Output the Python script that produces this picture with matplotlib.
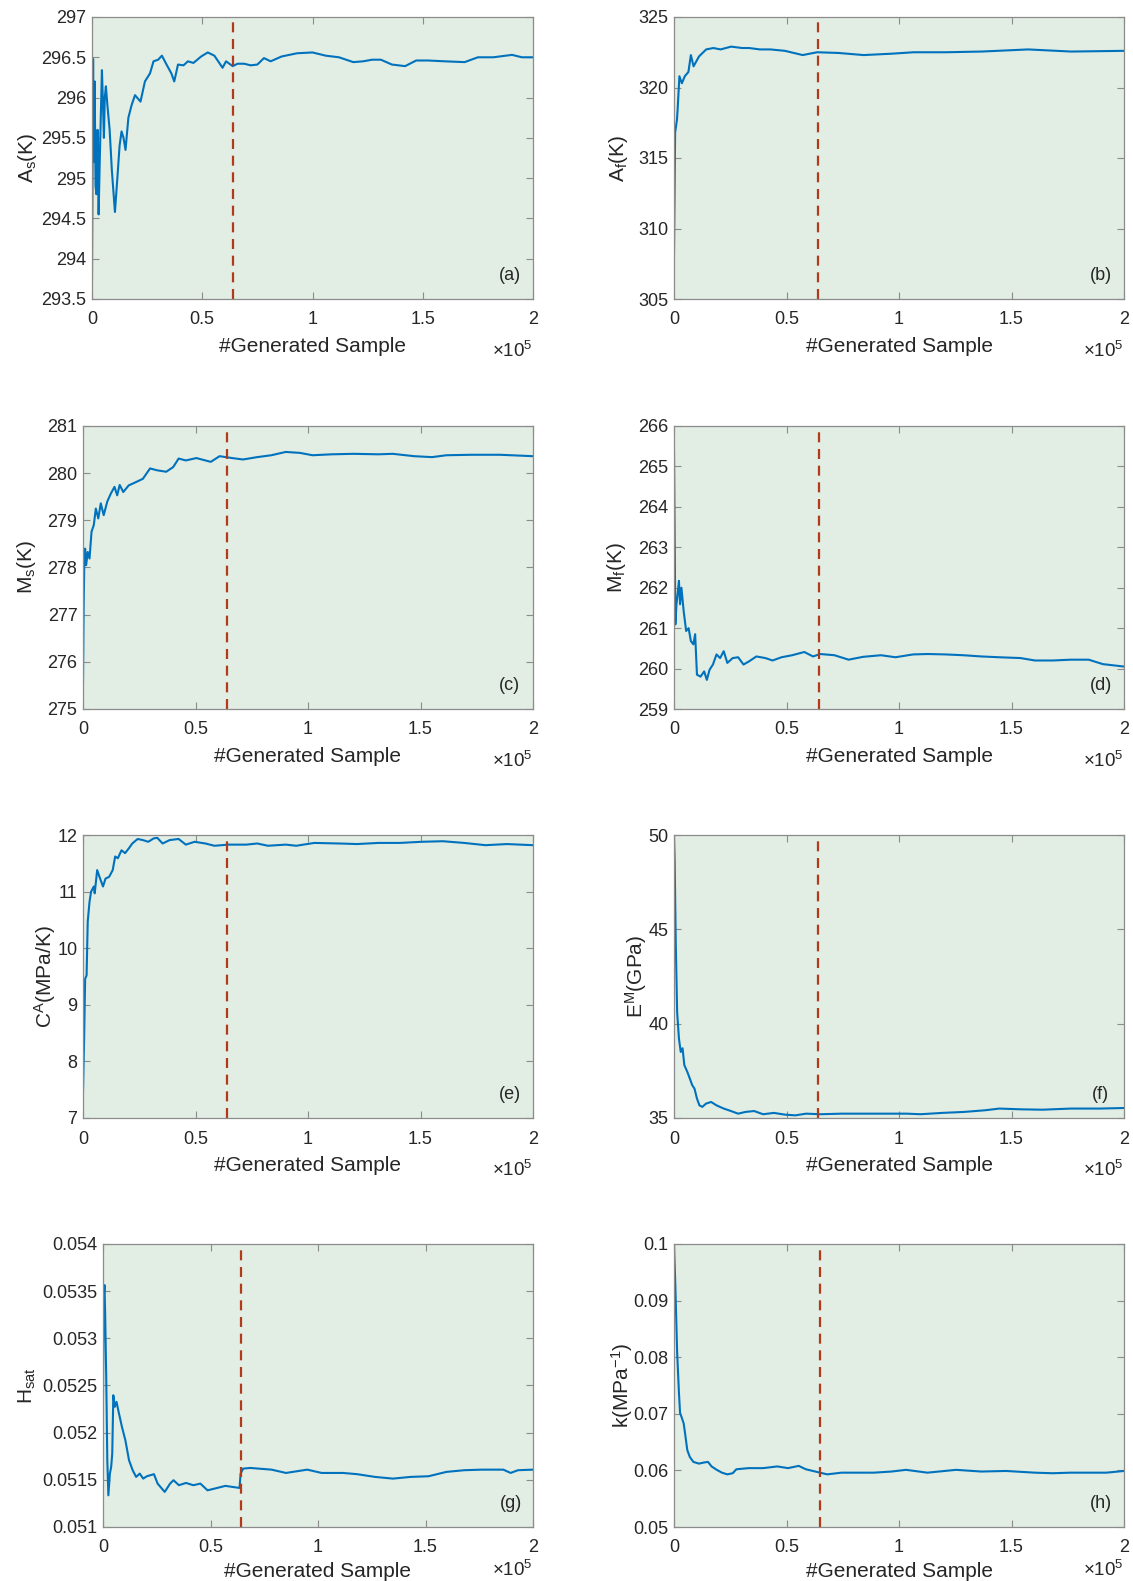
import matplotlib
matplotlib.use("Agg")
import matplotlib.pyplot as plt
from matplotlib.ticker import FixedLocator, FuncFormatter

plt.rcParams['font.family'] = ['Liberation Sans', 'DejaVu Sans']
plt.rcParams['mathtext.fontset'] = 'custom'
plt.rcParams['mathtext.rm'] = 'Liberation Sans'
plt.rcParams['mathtext.it'] = 'Liberation Sans'

# ---------------- data (x in units of 1e5 generated samples) ----------------
a_x = [0.0, 0.005, 0.008, 0.012, 0.016, 0.02, 0.025, 0.03, 0.035, 0.045, 0.05, 0.054, 0.058,
       0.063, 0.07, 0.08, 0.09, 0.104, 0.115, 0.125, 0.134, 0.143, 0.152, 0.165, 0.18, 0.195,
       0.22, 0.24, 0.263, 0.279, 0.3, 0.317, 0.34, 0.36, 0.373, 0.39, 0.415, 0.435, 0.46,
       0.495, 0.525, 0.555, 0.592, 0.608, 0.638, 0.66, 0.69, 0.72, 0.75, 0.78, 0.81, 0.86,
       0.93, 1.0, 1.06, 1.12, 1.185, 1.23, 1.27, 1.31, 1.36, 1.42, 1.47, 1.525, 1.6, 1.69,
       1.75, 1.82, 1.905, 1.95, 2.0]
a_y = [293.75, 296.48, 295.2, 296.2, 294.9, 294.8, 295.6, 294.55, 295.2, 296.34, 295.9, 295.5,
       296.0, 296.14, 295.9, 295.6, 295.1, 294.58, 295.0, 295.4, 295.58, 295.5, 295.35, 295.75,
       295.91, 296.03, 295.95, 296.2, 296.3, 296.45, 296.47, 296.52, 296.4, 296.3, 296.2,
       296.41, 296.4, 296.45, 296.43, 296.51, 296.56, 296.52, 296.37, 296.45, 296.39, 296.42,
       296.42, 296.4, 296.41, 296.49, 296.45, 296.51, 296.55, 296.56, 296.52, 296.5, 296.44,
       296.45, 296.47, 296.47, 296.41, 296.39, 296.46, 296.46, 296.45, 296.44, 296.5, 296.5,
       296.53, 296.5, 296.5]

b_x = [0.0, 0.005, 0.013, 0.016, 0.024, 0.035, 0.048, 0.064, 0.075, 0.087, 0.111, 0.143, 0.175,
       0.207, 0.254, 0.302, 0.334, 0.382, 0.429, 0.493, 0.572, 0.636, 0.731, 0.843, 0.97,
       1.065, 1.208, 1.367, 1.574, 1.765, 2.0]
b_y = [308.1, 316.8, 317.7, 318.4, 320.8, 320.3, 320.8, 321.1, 322.3, 321.5, 322.2, 322.7,
       322.8, 322.7, 322.9, 322.8, 322.8, 322.7, 322.7, 322.6, 322.3, 322.5, 322.45, 322.3,
       322.4, 322.5, 322.5, 322.55, 322.7, 322.55, 322.6]

c_x = [0.0, 0.003, 0.006, 0.0095, 0.014, 0.021, 0.029, 0.038, 0.048, 0.057, 0.068, 0.079,
       0.092, 0.108, 0.124, 0.14, 0.152, 0.163, 0.179, 0.203, 0.235, 0.266, 0.298, 0.33,
       0.37, 0.401, 0.425, 0.457, 0.504, 0.568, 0.607, 0.663, 0.711, 0.774, 0.837, 0.901,
       0.964, 1.02, 1.107, 1.202, 1.313, 1.377, 1.472, 1.551, 1.615, 1.726, 1.853, 2.0]
c_y = [275.54, 277.2, 278.19, 278.4, 278.05, 278.33, 278.19, 278.76, 278.9, 279.25, 279.04,
       279.36, 279.11, 279.4, 279.57, 279.71, 279.53, 279.75, 279.6, 279.74, 279.81, 279.88,
       280.1, 280.06, 280.03, 280.13, 280.31, 280.27, 280.32, 280.24, 280.36, 280.32, 280.29,
       280.34, 280.38, 280.45, 280.43, 280.38, 280.4, 280.41, 280.4, 280.41, 280.36, 280.34,
       280.38, 280.39, 280.39, 280.36]

d_x = [0.0, 0.003, 0.006, 0.011, 0.0175, 0.022, 0.027, 0.033, 0.043, 0.054, 0.065, 0.075,
       0.086, 0.094, 0.102, 0.118, 0.134, 0.146, 0.158, 0.173, 0.189, 0.205, 0.221, 0.237,
       0.261, 0.285, 0.309, 0.334, 0.366, 0.406, 0.438, 0.478, 0.525, 0.579, 0.618, 0.65,
       0.713, 0.776, 0.84, 0.92, 0.984, 1.063, 1.127, 1.206, 1.286, 1.365, 1.445, 1.54,
       1.604, 1.684, 1.763, 1.843, 1.906, 2.0]
d_y = [265.4, 263.25, 261.09, 261.59, 261.92, 262.17, 261.59, 262.0, 261.42, 260.93, 261.0,
       260.68, 260.6, 260.85, 259.85, 259.8, 259.93, 259.72, 259.97, 260.1, 260.35, 260.26,
       260.43, 260.14, 260.26, 260.28, 260.1, 260.18, 260.3, 260.26, 260.2, 260.28, 260.33,
       260.41, 260.3, 260.36, 260.33, 260.22, 260.29, 260.33, 260.28, 260.35, 260.36, 260.35,
       260.33, 260.3, 260.28, 260.26, 260.2, 260.2, 260.22, 260.22, 260.11, 260.05]

e_x = [0.0, 0.005, 0.0095, 0.016, 0.021, 0.029, 0.036, 0.048, 0.052, 0.063, 0.076, 0.089, 0.1,
       0.116, 0.132, 0.143, 0.155, 0.171, 0.187, 0.203, 0.219, 0.243, 0.266, 0.29, 0.314,
       0.33, 0.354, 0.385, 0.425, 0.457, 0.496, 0.544, 0.584, 0.647, 0.726, 0.774, 0.822,
       0.901, 0.948, 1.028, 1.139, 1.218, 1.313, 1.408, 1.504, 1.599, 1.694, 1.789, 1.884,
       2.0]
e_y = [7.46, 8.4, 9.46, 9.52, 10.47, 10.82, 11.0, 11.09, 10.97, 11.38, 11.23, 11.09, 11.23,
       11.26, 11.38, 11.62, 11.59, 11.73, 11.68, 11.76, 11.85, 11.93, 11.91, 11.88, 11.94,
       11.95, 11.85, 11.91, 11.93, 11.83, 11.88, 11.85, 11.81, 11.83, 11.83, 11.85, 11.81,
       11.83, 11.81, 11.86, 11.85, 11.84, 11.86, 11.86, 11.88, 11.89, 11.86, 11.82, 11.84,
       11.82]

f_x = [0.0, 0.003, 0.008, 0.014, 0.022, 0.03, 0.038, 0.046, 0.059, 0.07, 0.081, 0.091, 0.102,
       0.113, 0.126, 0.142, 0.165, 0.189, 0.221, 0.253, 0.285, 0.317, 0.356, 0.396, 0.444,
       0.492, 0.539, 0.587, 0.651, 0.746, 0.842, 0.937, 1.033, 1.096, 1.192, 1.287, 1.383,
       1.446, 1.542, 1.637, 1.765, 1.892, 2.0]
f_y = [50.0, 48.6, 44.2, 40.6, 39.2, 38.5, 38.7, 37.8, 37.45, 37.1, 36.74, 36.56, 36.03, 35.67,
       35.59, 35.76, 35.85, 35.67, 35.5, 35.37, 35.23, 35.32, 35.37, 35.2, 35.27, 35.18, 35.14,
       35.23, 35.2, 35.23, 35.23, 35.23, 35.23, 35.2, 35.27, 35.32, 35.41, 35.5, 35.46, 35.44,
       35.5, 35.5, 35.53]

g_x = [0.0, 0.003, 0.007, 0.01, 0.015, 0.02, 0.025, 0.032, 0.038, 0.043, 0.048, 0.055, 0.063,
       0.071, 0.088, 0.104, 0.121, 0.138, 0.154, 0.171, 0.187, 0.204, 0.237, 0.254, 0.287,
       0.312, 0.328, 0.353, 0.386, 0.42, 0.453, 0.486, 0.519, 0.569, 0.635, 0.64, 0.652,
       0.685, 0.784, 0.851, 0.95, 1.017, 1.116, 1.182, 1.265, 1.348, 1.431, 1.514, 1.597,
       1.68, 1.763, 1.862, 1.896, 1.93, 2.0]
g_y = [0.052362, 0.053406, 0.053565, 0.053264, 0.05259, 0.051708, 0.051336, 0.051566,
       0.051637, 0.051778, 0.052397, 0.052274, 0.052327, 0.052238, 0.052062, 0.05192,
       0.051708, 0.051602, 0.051531, 0.051566, 0.051513, 0.051538, 0.05156, 0.05146,
       0.051372, 0.05146, 0.051496, 0.051443, 0.051467, 0.051443, 0.05146, 0.051389,
       0.051407, 0.051436, 0.051414, 0.051566, 0.051619, 0.051626, 0.051608, 0.051573,
       0.051608, 0.051573, 0.051573, 0.05156, 0.051531, 0.051513, 0.051531, 0.051538,
       0.051584, 0.051602, 0.051608, 0.051608, 0.051573, 0.051602, 0.051608]

h_x = [0.0, 0.006, 0.014, 0.022, 0.027, 0.033, 0.043, 0.049, 0.059, 0.07, 0.086, 0.111, 0.134,
       0.151, 0.167, 0.19, 0.213, 0.237, 0.261, 0.277, 0.332, 0.396, 0.459, 0.507, 0.554,
       0.586, 0.649, 0.681, 0.745, 0.808, 0.888, 0.967, 1.031, 1.126, 1.254, 1.365, 1.476,
       1.603, 1.683, 1.763, 1.922, 2.0]
h_y = [0.1, 0.0926, 0.0808, 0.0737, 0.0701, 0.0695, 0.0683, 0.0666, 0.0636, 0.0624, 0.0615,
       0.0612, 0.0614, 0.0615, 0.0607, 0.0601, 0.0596, 0.0593, 0.0595, 0.0602, 0.0604, 0.0604,
       0.0607, 0.0604, 0.0608, 0.0602, 0.0596, 0.0593, 0.0596, 0.0596, 0.0596, 0.0598, 0.0601,
       0.0596, 0.0601, 0.0598, 0.0599, 0.0596, 0.0595, 0.0596, 0.0596, 0.0599]

# burn-in marker position (x 1e5) for each panel
burn_in = [0.638, 0.64, 0.64, 0.645, 0.64, 0.64, 0.64, 0.65]

ylabels = [r'A$_\mathregular{s}$(K)', r'A$_\mathregular{f}$(K)',
           r'M$_\mathregular{s}$(K)', r'M$_\mathregular{f}$(K)',
           r'C$^\mathregular{A}$(MPa/K)', r'E$^\mathregular{M}$(GPa)',
           r'H$_\mathregular{sat}$', r'k(MPa$^\mathregular{-1}$)']
panel_tags = ['(a)', '(b)', '(c)', '(d)', '(e)', '(f)', '(g)', '(h)']
ylims = [(293.5, 297), (305, 325), (275, 281), (259, 266), (7, 12), (35, 50),
         (0.051, 0.054), (0.05, 0.1)]
yticks = [[293.5, 294, 294.5, 295, 295.5, 296, 296.5, 297],
          [305, 310, 315, 320, 325],
          [275, 276, 277, 278, 279, 280, 281],
          [259, 260, 261, 262, 263, 264, 265, 266],
          [7, 8, 9, 10, 11, 12],
          [35, 40, 45, 50],
          [0.051, 0.0515, 0.052, 0.0525, 0.053, 0.0535, 0.054],
          [0.05, 0.06, 0.07, 0.08, 0.09, 0.1]]
xticks = [0, 0.5, 1, 1.5, 2]
xlabel = '#Generated Sample'

series = [(a_x, a_y), (b_x, b_y), (c_x, c_y), (d_x, d_y), (e_x, e_y), (f_x, f_y),
          (g_x, g_y), (h_x, h_y)]

# ---------------- layout (pixels in 1133 x 1581 canvas) ----------------
W, H = 1133, 1581
lefts = [92, 674, 83, 674, 83, 674, 103, 674]
rights = [533, 1124, 533, 1124, 533, 1124, 533, 1124]
tops = [17, 17, 426, 426, 835, 835, 1244, 1244]
bottoms = [299, 299, 709, 709, 1118, 1118, 1527, 1527]
ylabel_x = [27, 618, 27, 617, 45, 636, 27, 622]
exp_offset = [52, 52, 52, 52, 52, 52, 43, 43]
xlabel_pad = [6, 6, 6, 6, 6, 6, 4, 4]

BG = '#e2ede3'
LINE = '#0072bd'
DASH = '#b2391a'
AXC = '#8c8c8c'
TXT = '#262626'

fig = plt.figure(figsize=(W / 100, H / 100), dpi=100)
for i in range(8):
    l, r, t, b = lefts[i], rights[i], tops[i], bottoms[i]
    ax = fig.add_axes([l / W, 1 - b / H, (r - l) / W, (b - t) / H])
    ax.set_facecolor(BG)
    xs, ys = series[i]
    ax.plot(xs, ys, color=LINE, lw=1.5, solid_joinstyle='round')
    ax.axvline(burn_in[i], color=DASH, lw=1.6, dashes=(4.5, 3))
    ax.set_xlim(0, 2)
    ax.set_ylim(*ylims[i])
    ax.xaxis.set_major_locator(FixedLocator(xticks))
    ax.yaxis.set_major_locator(FixedLocator(yticks[i]))
    ax.xaxis.set_major_formatter(FuncFormatter(lambda v, p: '%g' % v))
    ax.yaxis.set_major_formatter(FuncFormatter(lambda v, p: '%g' % round(v, 6)))
    ax.tick_params(direction='in', length=5, width=0.8, colors=AXC, labelcolor=TXT,
                   labelsize=13, top=True, right=True)
    ax.tick_params(axis='x', pad=9)
    ax.tick_params(axis='y', pad=4)
    for s in ax.spines.values():
        s.set_color(AXC)
        s.set_linewidth(0.9)
    ax.set_xlabel(xlabel, fontsize=15, color=TXT, labelpad=xlabel_pad[i])
    ax.set_ylabel(ylabels[i], fontsize=15, color=TXT, va='center')
    ax.yaxis.set_label_coords((ylabel_x[i] - l) / (r - l), 0.5)
    ax.text(0.948, 0.082, panel_tags[i], transform=ax.transAxes, ha='center', va='center',
            fontsize=13, color=TXT)
    ax.text(1.0, -(exp_offset[i] / (b - t)), r'$\times$10$^\mathregular{5}$',
            transform=ax.transAxes, ha='right', va='center', fontsize=13.5, color=TXT)

fig.savefig('out.png', dpi=100, facecolor='white')
